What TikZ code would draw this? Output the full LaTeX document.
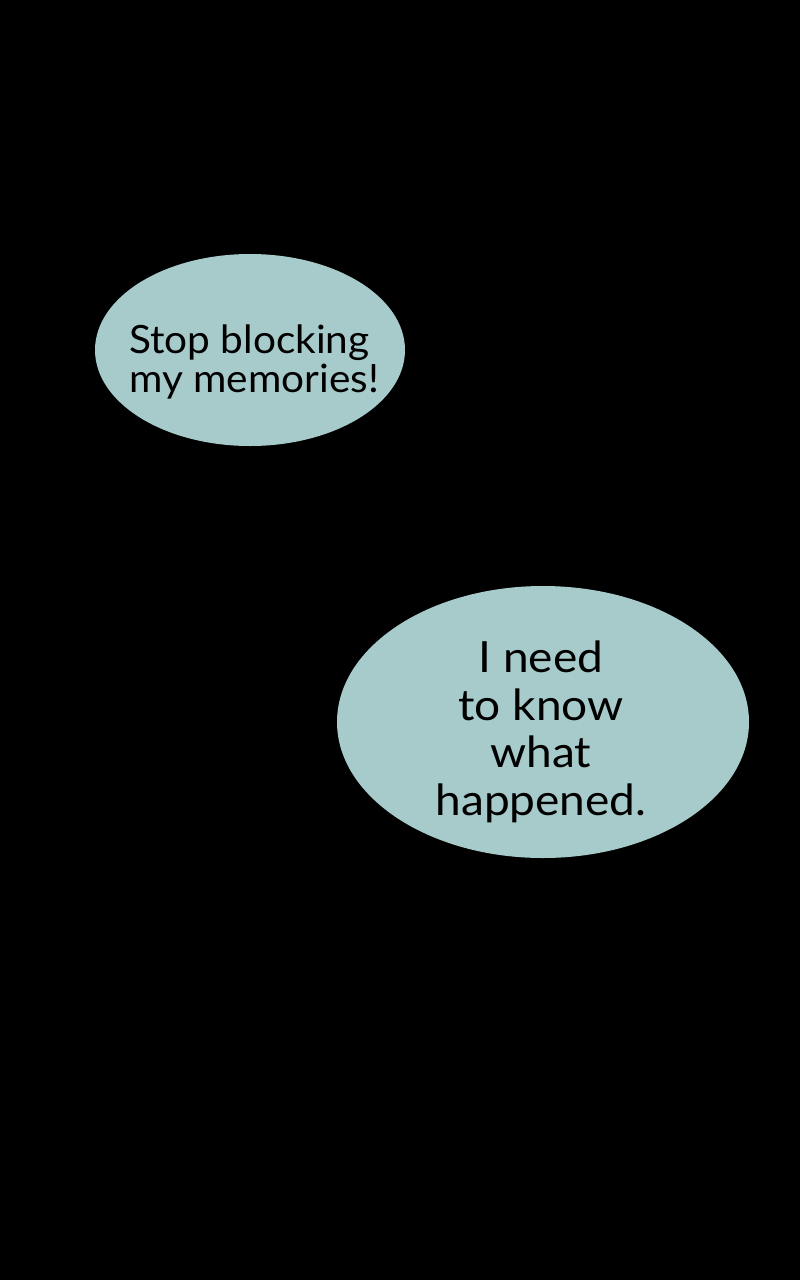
\documentclass[tikz,border=0pt]{standalone}
\usepackage{fontspec}
\setmainfont{Lato}
\newfontfamily\saysmall[FakeStretch=1.04]{Lato}
\newfontfamily\saybig[FakeStretch=1.07]{Lato}
\usetikzlibrary{shapes.geometric}
\definecolor{bubblecol}{HTML}{A7CACA}
\begin{document}
\begin{tikzpicture}
      [%%%%%%%%%%%%%%%%%%%%%%%%%%%%%%
      x=1pt, y=-1pt,
      bubble/.style={ellipse,fill=bubblecol,inner sep=0pt},
      say/.style={inner sep=0pt,text=black},
      ]%%%%%%%%%%%%%%%%%%%%%%%%%%%%%%

      \fill[black] (0,0) rectangle (800,1280);

      \node[bubble, minimum width=310pt, minimum height=192pt] (b1) at (250,350) {};
      \node[bubble, minimum width=412pt, minimum height=272pt] (b2) at (543,722) {};

      \node[say, align=left, anchor=west, font=\saysmall\fontsize{39}{39}\selectfont] (t1) at (129,362)
            {Stop blocking\\my memories!};
      \node[say, align=center, font=\saybig\fontsize{43}{47.5}\selectfont] (t2) at (541,732)
            {I need\\to know\\what\\happened.};
    \end{tikzpicture}
\end{document}
